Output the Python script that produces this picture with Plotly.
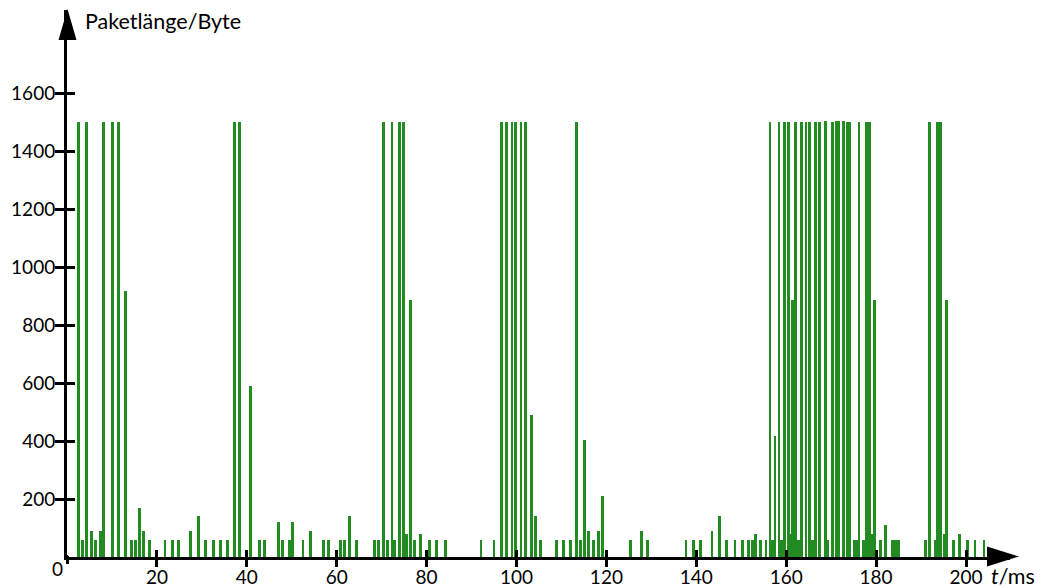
import plotly.graph_objects as go

# Packet arrival times (ms) and packet lengths (bytes)
t_ms = [
    2.6, 3.5, 4.4, 5.5, 6.4, 7.45, 8.2, 10.2, 11.5, 13.1,
    14.4, 15.3, 16.2, 17.0, 18.4, 21.8, 23.5, 24.9, 27.5, 29.3,
    30.9, 32.6, 34.2, 35.8, 37.3, 38.4, 40.9, 42.9, 44.0, 47.1,
    48.0, 49.6, 50.2, 52.5, 54.2, 57.1, 58.2, 60.9, 61.8, 62.9,
    64.5, 68.5, 69.4, 70.5, 71.4, 72.3, 72.9, 74.0, 74.9, 75.6,
    76.5, 77.4, 78.7, 80.7, 82.1, 84.2, 92.1, 95.0, 96.7, 97.8,
    99.0, 99.8, 101.0, 102.1, 103.4, 104.3, 105.4, 109.0, 110.5, 112.1,
    113.4, 114.3, 115.2, 116.1, 117.2, 118.3, 119.2, 125.4, 127.9, 129.2,
    137.7, 139.4, 141.0, 143.5, 145.2, 146.8, 148.6, 150.3, 151.7, 152.6,
    153.2, 154.3, 155.5, 156.4, 156.9, 157.5, 158.4, 159.0, 159.7, 160.5,
    160.8, 161.5, 162.1, 162.8, 163.5, 164.4, 165.1, 165.9, 166.6, 167.5,
    168.8, 169.3, 170.4, 171.1, 171.7, 172.8, 173.6, 174.1, 175.2, 175.8,
    176.2, 177.1, 177.9, 178.5, 179.2, 179.7, 181.0, 182.0, 183.6, 184.3,
    185.0, 190.9, 191.9, 193.2, 193.6, 194.3, 195.2, 195.7, 197.2, 198.5,
    200.4, 202.0, 204.0,
]
length_bytes = [
    1500, 60, 1500, 90, 60, 90, 1500, 1500, 1500, 918,
    60, 60, 170, 90, 60, 60, 60, 60, 90, 140,
    60, 60, 60, 60, 1500, 1500, 590, 60, 60, 120,
    60, 60, 120, 60, 90, 60, 60, 60, 60, 140,
    60, 60, 60, 1500, 60, 1500, 60, 1500, 1500, 80,
    885, 60, 80, 60, 60, 60, 60, 60, 1500, 1500,
    1500, 1500, 1500, 1500, 490, 140, 60, 60, 60, 60,
    1500, 60, 405, 90, 60, 90, 210, 60, 90, 60,
    60, 60, 60, 90, 140, 60, 60, 60, 60, 60,
    80, 60, 60, 1500, 60, 418, 1500, 60, 1500, 1500,
    80, 885, 1500, 60, 1500, 1500, 1500, 60, 1500, 1500,
    1505, 60, 1500, 1505, 1505, 1505, 1500, 1500, 60, 60,
    1500, 60, 1500, 1500, 80, 885, 60, 110, 60, 60,
    60, 60, 1500, 60, 1500, 1500, 80, 885, 60, 80,
    60, 60, 60,
]

x_ticks = [20, 40, 60, 80, 100, 120, 140, 160, 180, 200]
y_ticks = [200, 400, 600, 800, 1000, 1200, 1400, 1600]

# Canvas and plotting-area geometry (pixels)
W, H = 1041, 588
L, R, T, B = 67, 31, 10, 31
PW, PH = W - L - R, H - T - B
X_MAX = PW / 4.495
Y_MAX = PH / 0.29


def px(x):
    return (x - L) / PW


def py(y):
    return (H - B - y) / PH


FONT = "Lato"
BLACK = "#000000"
GREEN = "#228B22"

fig = go.Figure()
fig.add_trace(go.Bar(
    x=t_ms, y=length_bytes, width=0.65,
    marker=dict(color=GREEN, line=dict(width=0)),
    showlegend=False, hoverinfo="x+y",
))
# carrier for the inner half of the cross ticks
fig.add_trace(go.Scatter(x=[None], y=[None], xaxis="x2", yaxis="y2",
                         showlegend=False, hoverinfo="skip"))

tick_font = dict(family=FONT, size=19, color=BLACK)
title_font = dict(family=FONT, size=21.5, color=BLACK)

fig.update_layout(
    width=W, height=H,
    margin=dict(l=L, r=R, t=T, b=B, pad=0, autoexpand=False),
    paper_bgcolor="white", plot_bgcolor="white",
    font=tick_font,
    xaxis=dict(
        range=[0, X_MAX], tickvals=x_ticks, ticktext=[str(v) for v in x_ticks],
        ticks="outside", ticklen=7, tickwidth=2.5, tickcolor=BLACK,
        showline=True, linewidth=3, linecolor=BLACK,
        showgrid=False, zeroline=False, ticklabelstandoff=-6,
        tickfont=tick_font, fixedrange=True, automargin=False,
    ),
    yaxis=dict(
        range=[0, Y_MAX], tickvals=y_ticks, ticktext=[str(v) for v in y_ticks],
        ticks="outside", ticklen=9, tickwidth=2.5, tickcolor=BLACK,
        showline=True, linewidth=3, linecolor=BLACK,
        showgrid=False, zeroline=False, ticklabelstandoff=-4,
        tickfont=tick_font, fixedrange=True, automargin=False,
    ),
    xaxis2=dict(
        range=[0, X_MAX], tickvals=x_ticks, overlaying="x", side="bottom",
        ticks="inside", ticklen=7, tickwidth=2.5, tickcolor=BLACK,
        showticklabels=False, showline=False, showgrid=False, zeroline=False,
        fixedrange=True, automargin=False,
    ),
    yaxis2=dict(
        range=[0, Y_MAX], tickvals=y_ticks, overlaying="y", side="left",
        ticks="inside", ticklen=8, tickwidth=2.5, tickcolor=BLACK,
        showticklabels=False, showline=False, showgrid=False, zeroline=False,
        fixedrange=True, automargin=False,
    ),
    bargap=0,
)

# Axis arrowheads and the small overhang where the axes cross
fig.add_shape(type="path", xref="paper", yref="paper",
              path=f"M {px(58.5)},{py(40)} L {px(76.5)},{py(40)} L {px(67.5)},{py(9)} Z",
              fillcolor=BLACK, line=dict(width=0), layer="above")
fig.add_shape(type="path", xref="paper", yref="paper",
              path=f"M {px(987)},{py(546.5)} L {px(987)},{py(566.5)} L {px(1019)},{py(556.5)} Z",
              fillcolor=BLACK, line=dict(width=0), layer="above")
fig.add_shape(type="line", xref="paper", yref="paper",
              x0=px(67.5), x1=px(67.5), y0=py(556), y1=py(564),
              line=dict(color=BLACK, width=3), layer="above")
fig.add_shape(type="line", xref="paper", yref="paper",
              x0=px(64), x1=px(68), y0=py(556.5), y1=py(556.5),
              line=dict(color=BLACK, width=3), layer="above")

# Axis titles and the origin label
fig.add_annotation(xref="paper", yref="paper", x=px(83), y=py(21),
                   xanchor="left", yanchor="middle", showarrow=False,
                   text="Paketlänge/Byte", font=title_font)
fig.add_annotation(xref="paper", yref="paper", x=px(989), y=py(576),
                   xanchor="left", yanchor="middle", showarrow=False,
                   text="<i>t</i>/ms", font=title_font)
fig.add_annotation(xref="paper", yref="paper", x=px(57), y=py(568),
                   xanchor="center", yanchor="middle", showarrow=False,
                   text="0", font=tick_font)

fig.write_html("out.html")
